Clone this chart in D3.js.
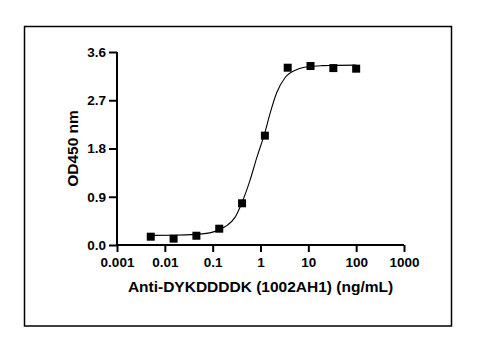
<!DOCTYPE html>
<html>
<head>
<meta charset="utf-8">
<script src="https://cdn.jsdelivr.net/npm/d3@7"></script>
<style>
  html, body { margin: 0; padding: 0; background: #fff; }
  svg { display: block; }
  text { font-family: "Liberation Sans", Arial, sans-serif; fill: #000; }
</style>
</head>
<body>
<div id="chart"></div>
<script>
// Measured data: concentration (ng/mL) and OD450
const concentrations = [0.00508, 0.01524, 0.0457, 0.1372, 0.4115, 1.235, 3.704, 11.11, 33.33, 100];
const od450 = [0.155, 0.118, 0.173, 0.304, 0.778, 2.04, 3.307, 3.339, 3.30, 3.289];

// Fitted curve
const fitX = [0.00508, 0.0152, 0.0457, 0.1, 0.137, 0.2, 0.29, 0.405, 0.6, 0.83, 1.24, 1.58, 2.18, 3.25, 5.7, 10, 20, 33, 100];
const fitY = [0.18, 0.182, 0.198, 0.24, 0.285, 0.365, 0.51, 0.78, 1.2, 1.62, 2.1, 2.45, 2.84, 3.12, 3.27, 3.325, 3.345, 3.35, 3.355];

const xTicks = [0.001, 0.01, 0.1, 1, 10, 100, 1000];
const xTickLabels = ["0.001", "0.01", "0.1", "1", "10", "100", "1000"];
const yTicks = [0.0, 0.9, 1.8, 2.7, 3.6];
const xTitle = "Anti-DYKDDDDK (1002AH1) (ng/mL)";
const yTitle = "OD450 nm";

(function () {
const W = 483, H = 355;
const svg = d3.select("#chart").append("svg").attr("width", W).attr("height", H);

// outer frame
svg.append("rect").attr("x", 24.5).attr("y", 26.5).attr("width", 427).attr("height", 299.5)
  .attr("fill", "none").attr("stroke", "#000").attr("stroke-width", 1.5);

const pl = 117, pr = 404, pt = 52, pb = 245;
const x = d3.scaleLog().domain([0.001, 1000]).range([pl, pr]);
const y = d3.scaleLinear().domain([0, 3.6]).range([pb, pt]);

const xAxis = d3.axisBottom(x).tickValues(xTicks)
  .tickFormat((d, i) => xTickLabels[i]).tickSizeOuter(0).tickSize(7).tickPadding(5);
const yAxis = d3.axisLeft(y).tickValues(yTicks)
  .tickFormat(d3.format(".1f")).tickSizeOuter(0).tickSize(8).tickPadding(3);

const gx = svg.append("g").attr("transform", `translate(0,${pb})`).call(xAxis);
const gy = svg.append("g").attr("transform", `translate(${pl},0)`).call(yAxis);

[gx, gy].forEach(g => {
  g.select(".domain").attr("stroke", "#000").attr("stroke-width", 2);
  g.selectAll(".tick line").attr("stroke", "#000").attr("stroke-width", 2);
  g.selectAll(".tick text").attr("font-family", "'Liberation Sans', Arial, sans-serif")
    .attr("font-size", "13.5px").attr("font-weight", "bold").attr("fill", "#000");
});
gx.select(".domain").attr("d", `M${pl - 1},0H${pr}`);
gy.select(".domain").attr("d", `M0,${pt}V${pb + 1}`);

// fitted curve
const line = d3.line().x((d, i) => x(fitX[i])).y(d => y(d)).curve(d3.curveMonotoneX);
svg.append("path").datum(fitY).attr("d", line)
  .attr("fill", "none").attr("stroke", "#000").attr("stroke-width", 1.1);

// points
const s = 8;
svg.append("g").selectAll("rect").data(od450).join("rect")
  .attr("x", (d, i) => x(concentrations[i]) - s / 2)
  .attr("y", d => y(d) - s / 2)
  .attr("width", s).attr("height", s).attr("fill", "#000");

// titles
svg.append("text").attr("x", (pl + pr) / 2).attr("y", 292)
  .attr("text-anchor", "middle").attr("font-size", "15.5px").attr("font-weight", "bold")
  .text(xTitle);
svg.append("text").attr("transform", `translate(78,${(pt + pb) / 2}) rotate(-90)`)
  .attr("text-anchor", "middle").attr("font-size", "15.5px").attr("font-weight", "bold")
  .text(yTitle);
})();
</script>
</body>
</html>
